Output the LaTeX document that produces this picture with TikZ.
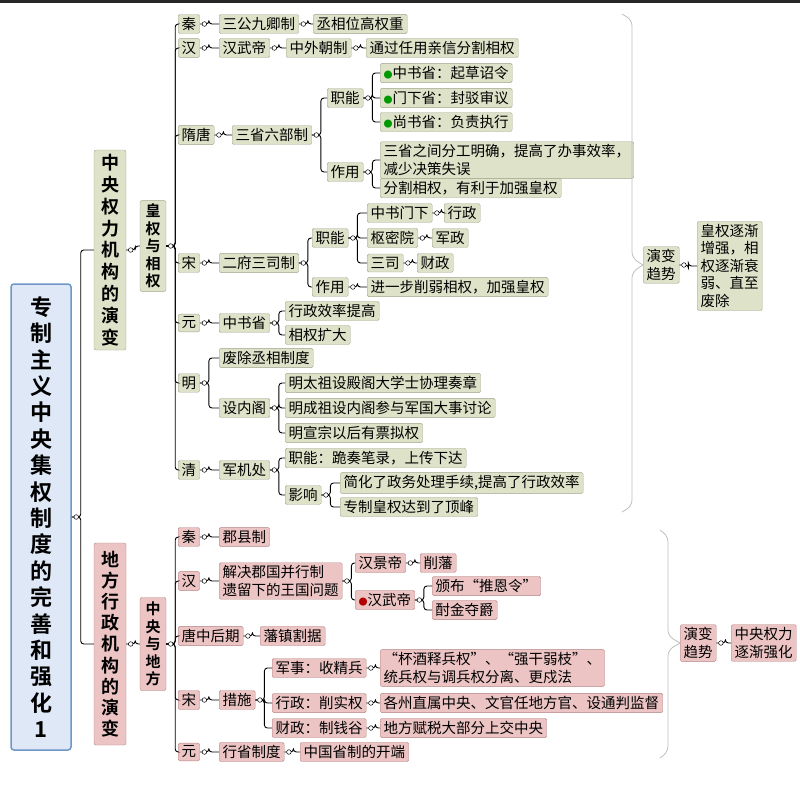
\documentclass[tikz,border=0pt]{standalone}
\usepackage{fontspec}
\setmainfont{Noto Sans CJK SC}[BoldFont={Noto Sans CJK SC Bold}]
\definecolor{zfill}{RGB}{221,226,200}
\definecolor{zline}{RGB}{160,165,140}
\definecolor{dfill}{RGB}{236,196,196}
\definecolor{dline}{RGB}{180,130,130}
\definecolor{rfill}{RGB}{222,232,246}
\definecolor{rline}{RGB}{110,150,200}
\tikzset{
  zy/.style={draw=zline,fill=zfill,rounded corners=1.5pt,inner xsep=3.5pt,inner ysep=2.8pt,font=\fontsize{14.5}{17.5}\selectfont,anchor=west,align=left},
  df/.style={zy,draw=dline,fill=dfill},
  vz/.style={draw=zline,fill=zfill,rounded corners=2pt,align=center,font=\bfseries},
  lk/.style={line width=0.9pt,rounded corners=3pt},
}
\newcommand{\lk}[2]{\draw[lk] (#1.east) -- ++(9,0) |- (#2.west);}
\newcommand{\knob}[1]{\filldraw[fill=white,draw=black,line width=0.5pt] (#1.east) ++(4.5,0) circle (2.3);}
\newcommand{\ico}[1]{\textcolor{#1}{\small ●}}
\begin{document}
\begin{tikzpicture}[x=1pt,y=-1pt]
\useasboundingbox (0,0) rectangle (800,803);
\fill[black!85] (0,0) rectangle (800,3);
% root
\node[draw=rline,fill=rfill,line width=1.5pt,rounded corners=3pt,minimum width=60pt,minimum height=466pt,align=center,font=\fontsize{22}{26.4}\selectfont\bfseries] (root) at (41,517)
  {专\\制\\主\\义\\中\\央\\集\\权\\制\\度\\的\\完\\善\\和\\强\\化\\1};
\node[vz,minimum width=32pt,minimum height=200pt,font=\fontsize{18}{21.8}\selectfont\bfseries] (zy) at (110,250) {中\\央\\权\\力\\机\\构\\的\\演\\变};
\node[vz,draw=dline,fill=dfill,minimum width=32pt,minimum height=202pt,font=\fontsize{18}{21.2}\selectfont\bfseries] (df) at (110,644) {地\\方\\行\\政\\机\\构\\的\\演\\变};
\node[vz,minimum width=26pt,minimum height=88pt,font=\fontsize{15}{17.5}\selectfont\bfseries] (hq) at (153,246) {皇\\权\\与\\相\\权};
\node[vz,draw=dline,fill=dfill,minimum width=26pt,minimum height=93pt,font=\fontsize{15}{17.5}\selectfont\bfseries] (zd) at (153,644) {中\\央\\与\\地\\方};
% central
\node[zy] (qin) at (178,24) {秦};
\node[zy] (sgjq) at (219,24) {三公九卿制};
\node[zy] (cxwg) at (313,24) {丞相位高权重};
\node[zy] (han) at (178,48) {汉};
\node[zy] (hwd) at (219,48) {汉武帝};
\node[zy] (zwcz) at (286,48) {中外朝制};
\node[zy] (tgry) at (366,48) {通过任用亲信分割相权};
\node[zy] (st) at (178,135) {隋唐};
\node[zy] (ssl) at (232,135) {三省六部制};
\node[zy] (zn1) at (327,98) {职能};
\node[zy] (zss) at (380,73) {\ico{green!60!black}中书省：起草诏令};
\node[zy] (mxs) at (380,98) {\ico{green!60!black}门下省：封驳审议};
\node[zy] (sss) at (380,122) {\ico{green!60!black}尚书省：负责执行};
\node[zy] (zy1) at (327,172) {作用};
\node[zy] (ssfg) at (380,160) {三省之间分工明确，提高了办事效率，\\减少决策失误};
\node[zy] (fgxq) at (380,188) {分割相权，有利于加强皇权};
\node[zy] (song) at (178,263) {宋};
\node[zy] (efss) at (219,263) {二府三司制};
\node[zy] (zn2) at (312,238) {职能};
\node[zy] (zsmx) at (367,213) {中书门下};
\node[zy] (xz) at (444,213) {行政};
\node[zy] (smy) at (367,238) {枢密院};
\node[zy] (jz) at (432,238) {军政};
\node[zy] (ss) at (367,263) {三司};
\node[zy] (cz) at (417,263) {财政};
\node[zy] (zy2) at (312,287) {作用};
\node[zy] (jyb) at (367,287) {进一步削弱相权，加强皇权};
\node[zy] (yuan) at (178,323) {元};
\node[zy] (zsx) at (219,323) {中书省};
\node[zy] (xzxl) at (285,311) {行政效率提高};
\node[zy] (xqkd) at (285,335) {相权扩大};
\node[zy] (ming) at (178,383) {明};
\node[zy] (fccx) at (219,358) {废除丞相制度};
\node[zy] (snk) at (219,408) {设内阁};
\node[zy] (mtz) at (285,383) {明太祖设殿阁大学士协理奏章};
\node[zy] (mcz) at (285,408) {明成祖设内阁参与军国大事讨论};
\node[zy] (mxz) at (285,433) {明宣宗以后有票拟权};
\node[zy] (qing) at (178,470) {清};
\node[zy] (jjc) at (219,470) {军机处};
\node[zy] (zn3) at (285,458) {职能：跪奏笔录，上传下达};
\node[zy] (yx) at (285,495) {影响};
\node[zy] (jhl) at (340,483) {简化了政务处理手续,提高了行政效率};
\node[zy] (zzhq) at (340,507) {专制皇权达到了顶峰};
\node[zy] (ybqs1) at (643,265) {演变\\趋势};
\node[zy] (hqzj) at (697,266) {皇权逐渐\\增强，相\\权逐渐衰\\弱、直至\\废除};
% local
\node[df] (qin2) at (178,537) {秦};
\node[df] (jxz) at (219,537) {郡县制};
\node[df] (han2) at (178,581) {汉};
\node[df] (jjgg) at (219,581) {解决郡国并行制\\遗留下的王国问题};
\node[df] (hjd) at (355,563) {汉景帝};
\node[df] (xf) at (420,563) {削藩};
\node[df] (hwd2) at (355,600) {\ico{red!70!black}汉武帝};
\node[df] (tel) at (432,586) {颁布“推恩令”};
\node[df] (zjdj) at (432,610) {酎金夺爵};
\node[df] (tzhq) at (178,636) {唐中后期};
\node[df] (fzgj) at (260,636) {藩镇割据};
\node[df] (song2) at (178,700) {宋};
\node[df] (cs) at (219,700) {措施};
\node[df] (js) at (272,668) {军事：收精兵};
\node[df] (bjsb) at (380,668) {“杯酒释兵权”、“强干弱枝”、\\统兵权与调兵权分离、更戍法};
\node[df] (xzx) at (272,703) {行政：削实权};
\node[df] (gzzs) at (380,703) {各州直属中央、文官任地方官、设通判监督};
\node[df] (czz) at (272,728) {财政：制钱谷};
\node[df] (dffs) at (380,728) {地方赋税大部分上交中央};
\node[df] (yuan2) at (178,752) {元};
\node[df] (xszd) at (219,752) {行省制度};
\node[df] (zgsz) at (300,752) {中国省制的开端};
\node[df] (ybqs2) at (680,643) {演变\\趋势};
\node[df] (zyql) at (731,643) {中央权力\\逐渐强化};
% links
\foreach \a/\b in {root/zy,root/df,zy/hq,df/zd,
  hq/qin,hq/han,hq/st,hq/song,hq/yuan,hq/ming,hq/qing,
  qin/sgjq,sgjq/cxwg,han/hwd,hwd/zwcz,zwcz/tgry,
  st/ssl,ssl/zn1,ssl/zy1,zn1/zss,zn1/mxs,zn1/sss,zy1/ssfg,zy1/fgxq,
  song/efss,efss/zn2,efss/zy2,zn2/zsmx,zn2/smy,zn2/ss,zsmx/xz,smy/jz,ss/cz,zy2/jyb,
  yuan/zsx,zsx/xzxl,zsx/xqkd,ming/fccx,ming/snk,snk/mtz,snk/mcz,snk/mxz,
  qing/jjc,jjc/zn3,jjc/yx,yx/jhl,yx/zzhq,ybqs1/hqzj,
  zd/qin2,zd/han2,zd/tzhq,zd/song2,zd/yuan2,qin2/jxz,han2/jjgg,jjgg/hjd,jjgg/hwd2,hjd/xf,hwd2/tel,hwd2/zjdj,
  tzhq/fzgj,song2/cs,cs/js,cs/xzx,cs/czz,js/bjsb,xzx/gzzs,czz/dffs,yuan2/xszd,xszd/zgsz,ybqs2/zyql}
  {\lk{\a}{\b}}
% trend braces
\draw[black!25,line width=0.8pt,rounded corners=6pt] (622,14) -- (632,20) -- (632,258) -- (643,265);
\draw[black!25,line width=0.8pt,rounded corners=6pt] (622,512) -- (632,506) -- (632,272) -- (643,265);
\draw[black!25,line width=0.8pt,rounded corners=6pt] (660,530) -- (668,536) -- (668,636) -- (680,643);
\draw[black!25,line width=0.8pt,rounded corners=6pt] (660,758) -- (668,752) -- (668,650) -- (680,643);
\foreach \n in {root,zy,df,hq,zd,qin,sgjq,han,hwd,zwcz,st,ssl,zn1,zy1,song,efss,zn2,zsmx,smy,ss,zy2,
  yuan,zsx,ming,snk,qing,jjc,yx,ybqs1,qin2,han2,jjgg,hjd,hwd2,tzhq,song2,cs,js,xzx,czz,yuan2,xszd,ybqs2}
  {\knob{\n}}
\end{tikzpicture}
\end{document}
